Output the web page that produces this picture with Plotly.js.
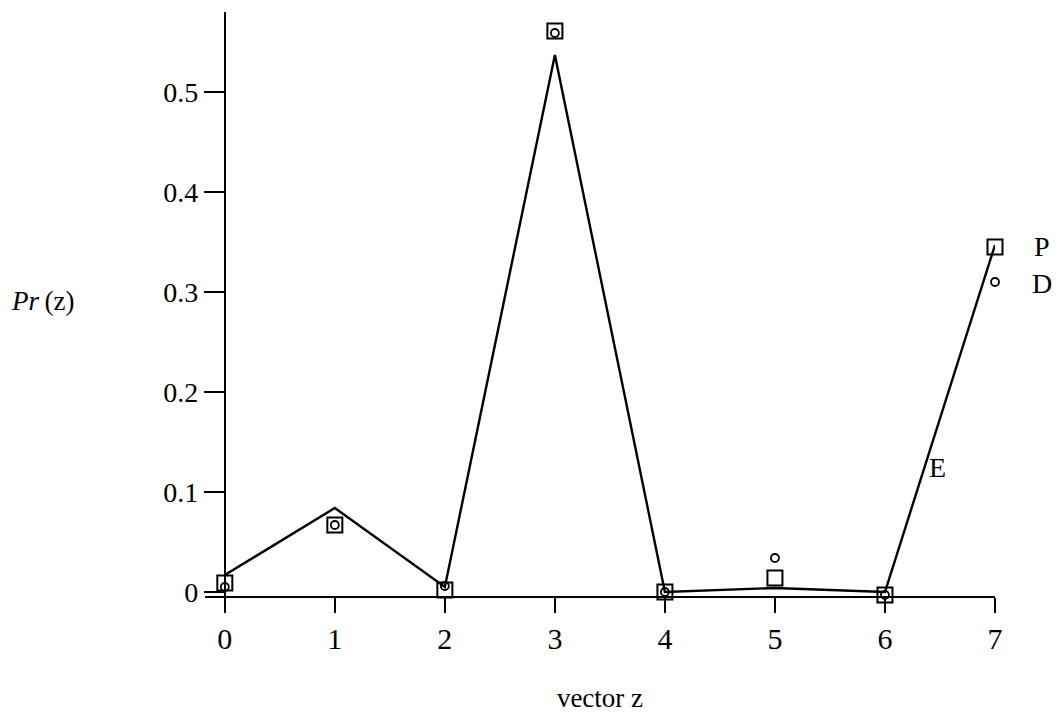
<!DOCTYPE html>
<html>
<head>
<meta charset="utf-8">
<script src="https://cdn.plot.ly/plotly-3.0.1.min.js"></script>
<style>html,body{margin:0;padding:0;background:#fff;}#chart{width:1059px;height:714px;}</style>
</head>
<body>
<div id="chart"></div>
<script>
// vector index z
const zValues = [0, 1, 2, 3, 4, 5, 6, 7];
// E : line
const seriesE = [0.017, 0.084, 0.005, 0.537, 0.000, 0.004, 0.000, 0.347];
// P : squares
const seriesP = [0.009, 0.067, 0.002, 0.561, 0.000, 0.014, -0.003, 0.345];
// D : circles
const seriesD = [0.005, 0.067, 0.006, 0.559, 0.000, 0.034, -0.003, 0.310];
const xTicks = [0, 1, 2, 3, 4, 5, 6, 7];
const yTicks = [0, 0.1, 0.2, 0.3, 0.4, 0.5];
const yTickText = ['0', '0.1', '0.2', '0.3', '0.4', '0.5'];
const seriesNames = ['E', 'P', 'D'];

const serif = 'Liberation Serif, Times New Roman, serif';

const traces = [
  {x: zValues, y: seriesE, mode: 'lines', name: seriesNames[0],
   line: {color: '#000', width: 2.4}, cliponaxis: false, hoverinfo: 'x+y'},
  {x: zValues, y: seriesP, mode: 'markers', name: seriesNames[1], cliponaxis: false,
   marker: {symbol: 'square-open', size: 15, color: '#000', line: {width: 2, color: '#000'}}},
  {x: zValues, y: seriesD, mode: 'markers', name: seriesNames[2], cliponaxis: false,
   marker: {symbol: 'circle-open', size: 8, color: '#000', line: {width: 1.8, color: '#000'}}}
];

const layout = {
  width: 1059, height: 714,
  margin: {l: 205, r: 64, t: 12, b: 118},
  paper_bgcolor: '#fff', plot_bgcolor: '#fff',
  showlegend: false,
  font: {family: serif, color: '#000'},
  xaxis: {
    range: [-0.18, 7.0],
    tickvals: xTicks, ticktext: xTicks.map(String),
    showgrid: false, zeroline: false,
    showline: true, linecolor: '#000', linewidth: 2,
    ticks: 'outside', ticklen: 15, tickwidth: 2, tickcolor: '#000',
    tickfont: {family: serif, size: 30, color: '#000'},
    title: {text: 'vector z', font: {family: serif, size: 27, color: '#000'}, standoff: 34}
  },
  yaxis: {
    range: [-0.004, 0.58],
    anchor: 'free', position: 0.0251,
    tickvals: yTicks, ticktext: yTickText,
    showgrid: false, zeroline: false,
    showline: true, linecolor: '#000', linewidth: 2,
    ticks: 'outside', ticklen: 20, tickwidth: 2, tickcolor: '#000',
    tickfont: {family: serif, size: 28, color: '#000'}
  },
  annotations: [
    {xref: 'x', yref: 'y', x: 7, y: 0.346, xshift: 47, text: 'P', showarrow: false,
     font: {family: serif, size: 28, color: '#000'}},
    {xref: 'x', yref: 'y', x: 7, y: 0.309, xshift: 47, text: 'D', showarrow: false,
     font: {family: serif, size: 28, color: '#000'}},
    {xref: 'x', yref: 'y', x: 6.48, y: 0.125, text: 'E', showarrow: false,
     font: {family: serif, size: 28, color: '#000'}},
    {xref: 'paper', yref: 'paper', x: -0.248, y: 0.505, xanchor: 'left',
     text: '<i>Pr</i>\u2009(z)', showarrow: false,
     font: {family: serif, size: 27, color: '#000'}}
  ]
};

Plotly.newPlot('chart', traces, layout, {displayModeBar: false, staticPlot: true});
</script>
</body>
</html>
